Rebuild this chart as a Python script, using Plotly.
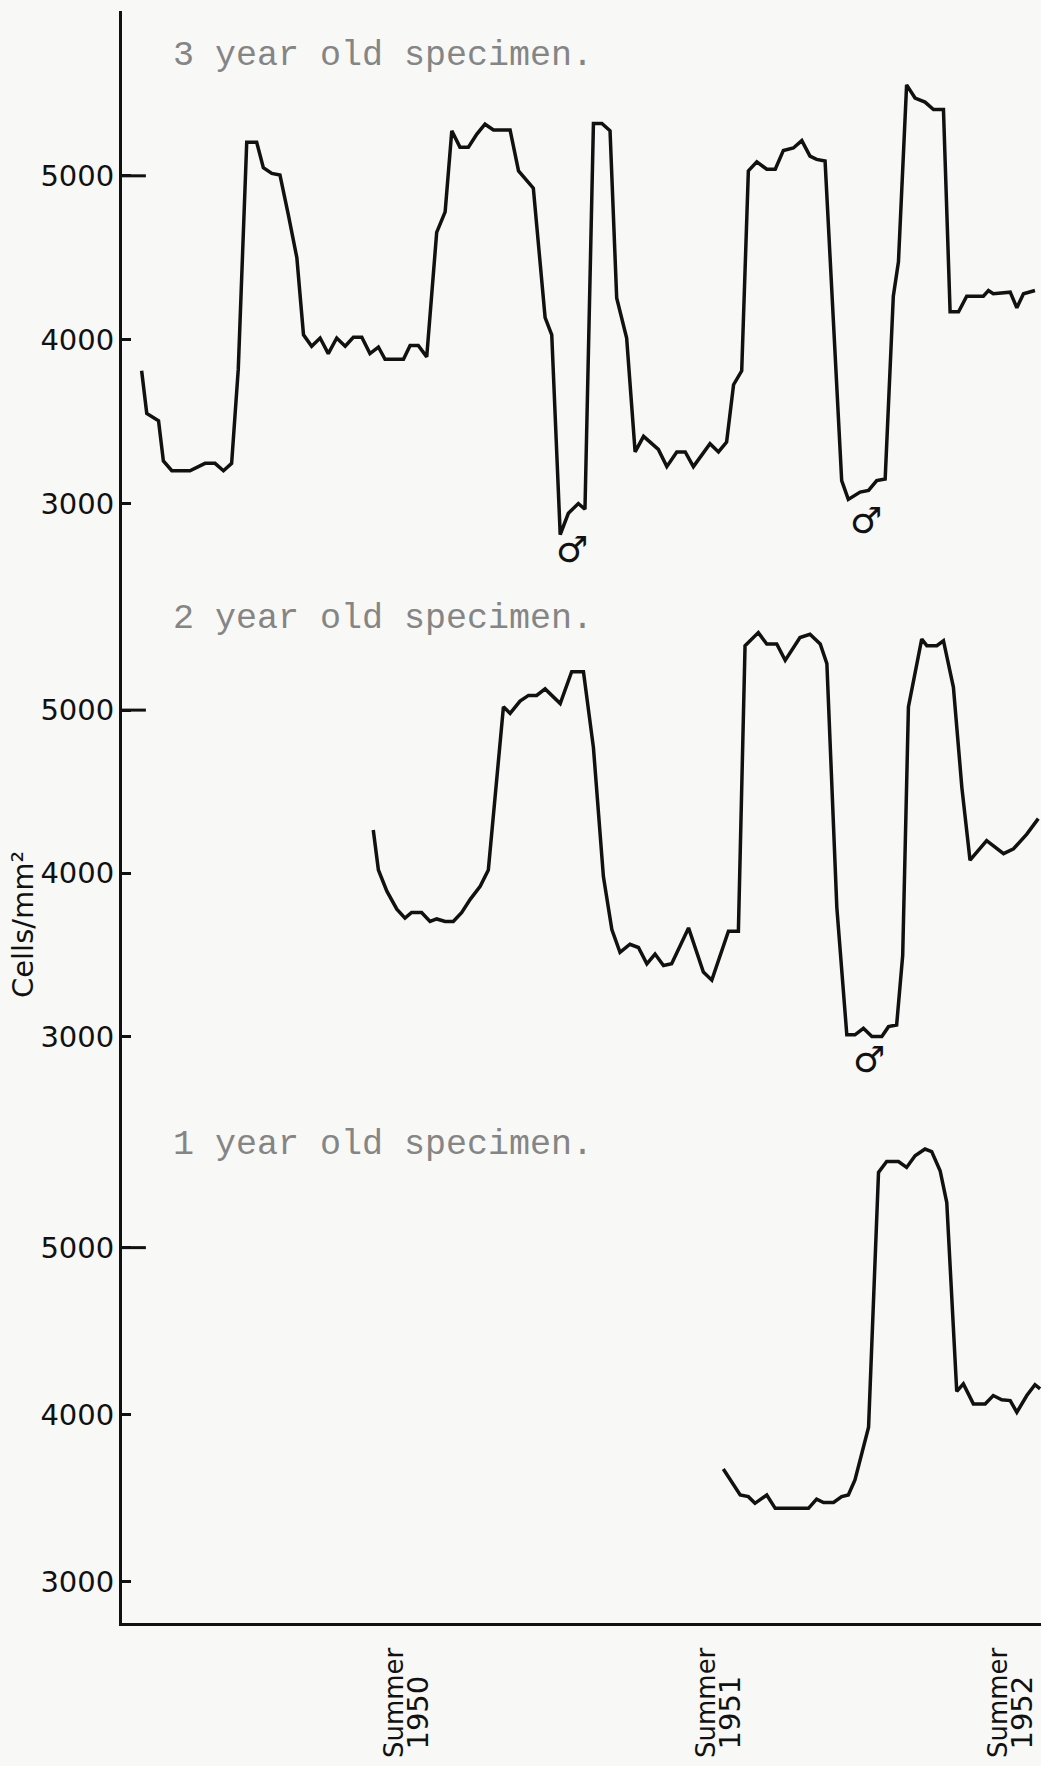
import plotly.graph_objects as go

# ---------------- data (x in decimal years, y in cells/mm^2) ----------------
x_3yr = [1949.631, 1949.648, 1949.687, 1949.703, 1949.731, 1949.791, 1949.841, 1949.874, 1949.902, 1949.929,
         1949.951, 1949.979, 1950.012, 1950.034, 1950.062, 1950.089, 1950.117, 1950.145, 1950.167, 1950.194,
         1950.222, 1950.249, 1950.277, 1950.305, 1950.332, 1950.360, 1950.387, 1950.415, 1950.437, 1950.498,
         1950.520, 1950.547, 1950.575, 1950.608, 1950.636, 1950.658, 1950.685, 1950.713, 1950.741, 1950.768,
         1950.796, 1950.851, 1950.879,
         1950.928, 1950.967, 1950.989, 1951.017, 1951.044, 1951.077, 1951.099, 1951.127, 1951.155, 1951.182,
         1951.204, 1951.237, 1951.265, 1951.293, 1951.342, 1951.370, 1951.403, 1951.431, 1951.458, 1951.513,
         1951.541, 1951.568, 1951.591, 1951.618, 1951.640, 1951.668, 1951.701, 1951.729, 1951.756, 1951.789,
         1951.817, 1951.844, 1951.866, 1951.894, 1951.949, 1951.971, 1952.010, 1952.038, 1952.065, 1952.093,
         1952.120, 1952.137, 1952.164, 1952.192, 1952.225, 1952.253, 1952.286, 1952.308, 1952.336, 1952.363,
         1952.418, 1952.435, 1952.451, 1952.507, 1952.529, 1952.551, 1952.589]
y_3yr = [3810, 3550, 3505, 3260, 3200, 3200, 3245, 3245, 3200, 3245,
         3820, 5205, 5205, 5050, 5015, 5005, 4760, 4500, 4030, 3960,
         4010, 3915, 4010, 3960, 4015, 4015, 3915, 3955, 3880, 3880,
         3965, 3965, 3895, 4655, 4780, 5275, 5175, 5175, 5255, 5315,
         5280, 5280, 5030,
         4925, 4135, 4030, 2810, 2940, 3000, 2965, 5320, 5320, 5275,
         4255, 4010, 3315, 3410, 3330, 3225, 3315, 3315, 3225, 3365,
         3315, 3375, 3725, 3810, 5030, 5085, 5040, 5040, 5155, 5170,
         5215, 5120, 5100, 5090, 3140, 3025, 3070, 3080, 3140, 3150,
         4265, 4475, 5555, 5475, 5450, 5405, 5405, 4170, 4170, 4265,
         4265, 4300, 4280, 4290, 4195, 4280, 4300]

x_2yr = [1950.398, 1950.415, 1950.443, 1950.476, 1950.503, 1950.525, 1950.558, 1950.586, 1950.608, 1950.636,
         1950.663, 1950.691, 1950.719, 1950.752, 1950.779, 1950.829, 1950.851, 1950.884,
         1950.912, 1950.939, 1950.967, 1951.017, 1951.055, 1951.094, 1951.127, 1951.160, 1951.188, 1951.215,
         1951.248, 1951.276, 1951.304, 1951.331, 1951.359, 1951.386, 1951.442, 1951.491, 1951.519, 1951.574,
         1951.607, 1951.629, 1951.673, 1951.701, 1951.734, 1951.762, 1951.811, 1951.844, 1951.878, 1951.900,
         1951.933, 1951.966, 1951.993, 1952.021, 1952.049, 1952.082, 1952.104, 1952.131, 1952.151, 1952.170,
         1952.214, 1952.231, 1952.264, 1952.286, 1952.319, 1952.347, 1952.374, 1952.429, 1952.485, 1952.518,
         1952.562, 1952.600]
y_2yr = [4265, 4020, 3890, 3780, 3725, 3760, 3760, 3705, 3720, 3705,
         3705, 3760, 3840, 3920, 4020, 5020, 4980, 5055,
         5090, 5090, 5130, 5040, 5235, 5235, 4770, 3980, 3655, 3515,
         3565, 3545, 3445, 3505, 3435, 3445, 3665, 3395, 3345, 3645,
         3645, 5395, 5475, 5405, 5405, 5305, 5445, 5465, 5405, 5285,
         3790, 3010, 3010, 3050, 3000, 3000, 3060, 3070, 3495, 5020,
         5435, 5395, 5395, 5425, 5140, 4525, 4080, 4200, 4120, 4150,
         4240, 4335]

x_1yr = [1951.557, 1951.613, 1951.640, 1951.662, 1951.701, 1951.729, 1951.839, 1951.866, 1951.889, 1951.922,
         1951.949, 1951.971, 1951.993, 1952.010, 1952.038, 1952.071, 1952.098, 1952.137, 1952.164, 1952.192,
         1952.225, 1952.247, 1952.275, 1952.297, 1952.330, 1952.352, 1952.385, 1952.424, 1952.451, 1952.479,
         1952.507, 1952.529, 1952.562, 1952.589, 1952.606]
y_1yr = [3675, 3520, 3510, 3470, 3520, 3440, 3440, 3495, 3475, 3475,
         3510, 3520, 3610, 3725, 3925, 5450, 5515, 5515, 5480, 5550,
         5590, 5575, 5460, 5270, 4140, 4185, 4065, 4065, 4115, 4090,
         4085, 4015, 4115, 4180, 4155]

x_tickvals = [1950.5, 1951.533, 1952.5]
x_tick_season = ["Summer", "Summer", "Summer"]
x_tick_year = ["1950", "1951", "1952"]
y_tickvals = [3000, 4000, 5000]
panel_titles = ["3 year old specimen.", "2 year old specimen.", "1 year old specimen."]
male_marks = [  # (x, y, axis)
    (1951.057, 2718, "y3"),
    (1952.030, 2895, "y3"),
    (1952.039, 2860, "y2"),
]

# ---------------- figure ----------------
INK = "#111111"
fig = go.Figure()
for xs, ys, ax in [(x_3yr, y_3yr, "y3"), (x_2yr, y_2yr, "y2"), (x_1yr, y_1yr, "y")]:
    fig.add_trace(go.Scatter(x=xs, y=ys, xaxis="x", yaxis=ax, mode="lines",
                             line=dict(color=INK, width=3.5), showlegend=False,
                             hoverinfo="skip"))

tickfont = dict(family="DejaVu Sans", size=29, color=INK)
yax_common = dict(showline=True, linecolor=INK, linewidth=3, showgrid=False, zeroline=False,
                  ticks="inside", ticklen=9, tickwidth=3, tickcolor=INK,
                  tickvals=y_tickvals, tickfont=tickfont, anchor="x", fixedrange=True,
                  ticklabelstandoff=-1)

fig.update_layout(
    width=1041, height=1766,
    margin=dict(l=122, r=0, t=11, b=143),
    paper_bgcolor="#f8f8f7", plot_bgcolor="#f8f8f7",
    xaxis=dict(range=[1949.566, 1952.609], anchor="y", showline=True, linecolor=INK, linewidth=3,
               showgrid=False, zeroline=False, ticks="", tickvals=x_tickvals,
               showticklabels=False, fixedrange=True),
    yaxis=dict(domain=[0, 0.3244], range=[2754, 5883], **yax_common),
    yaxis2=dict(domain=[0.3244, 0.6402], range=[2610, 5730], **yax_common),
    yaxis3=dict(domain=[0.6402, 1], range=[2466, 6006], **yax_common),
)

# x tick labels: two rotated columns under each tick
for tv, season, year in zip(x_tickvals, x_tick_season, x_tick_year):
    fig.add_annotation(text=season, xref="x", yref="paper", x=tv, y=-0.0493, xshift=-9.5,
                       textangle=-90, showarrow=False, xanchor="center", yanchor="middle",
                       font=dict(family="DejaVu Sans", size=26, color=INK))
    fig.add_annotation(text=year, xref="x", yref="paper", x=tv, y=-0.0555, xshift=14,
                       textangle=-90, showarrow=False, xanchor="center", yanchor="middle",
                       font=dict(family="DejaVu Sans", size=29, color=INK))

# longer tick at 5000 in each panel
for ax in ["y", "y2", "y3"]:
    fig.add_shape(type="line", xref="x domain", yref=ax, x0=0, x1=0.026, y0=5000, y1=5000,
                  line=dict(color=INK, width=3))

# panel titles (typewritten)
for title, ypos in zip(panel_titles, [0.9721, 0.6228, 0.2965]):
    fig.add_annotation(text=title, xref="paper", yref="paper", x=0.0533, y=ypos,
                       xanchor="left", yanchor="middle", showarrow=False,
                       font=dict(family="Liberation Mono", size=35, color="#858585"))

# male symbols
for mx, my, ax in male_marks:
    fig.add_annotation(text="♂", xref="x", yref=ax, x=mx, y=my, showarrow=False,
                       font=dict(family="DejaVu Sans", size=36, color=INK))

# y-axis title
fig.add_annotation(text="Cells/mm²", xref="paper", yref="paper", x=-0.1077, y=0.433,
                   textangle=-90, showarrow=False, xanchor="center", yanchor="middle",
                   font=dict(family="DejaVu Sans", size=29, color=INK))

fig.write_html("out.html", config={"displayModeBar": False},
               post_script="document.body.style.margin='0';")
